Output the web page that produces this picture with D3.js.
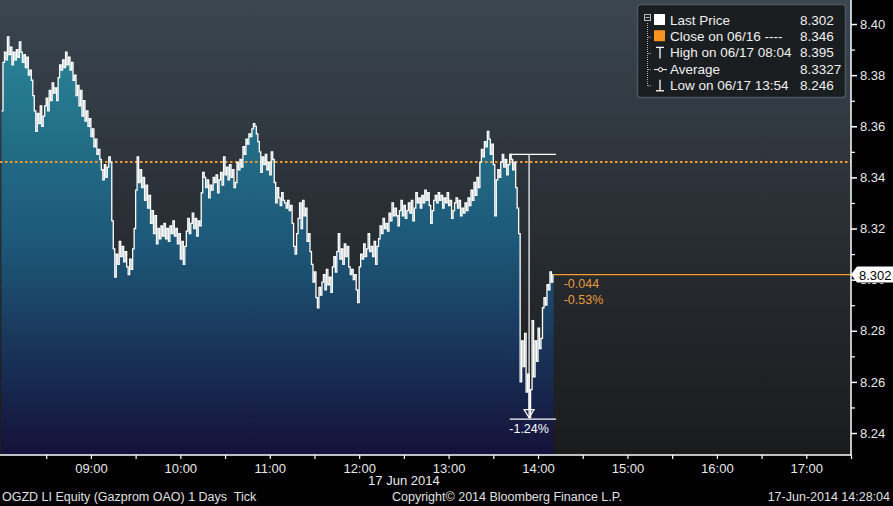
<!DOCTYPE html>
<html><head><meta charset="utf-8">
<script src="https://cdn.jsdelivr.net/npm/d3@7"></script>
<style>
html,body{margin:0;padding:0;background:#000;}
svg{display:block;}
text{font-family:"Liberation Sans",Arial,sans-serif;white-space:pre;}
</style></head>
<body>
<svg id="chart" width="893" height="506"></svg>
<script>
// ---------- DATA ----------
const sessionStart = "07:59", sessionEnd = "17:30";
const tickStart = "08:00";           // first tick, one value per minute after
const prices = [
8.366,8.385,8.389,8.386,8.395,8.388,8.391,8.384,8.389,8.386,
8.390,8.387,8.393,8.389,8.385,8.388,8.383,8.387,8.380,8.382,
8.378,8.372,8.366,8.358,8.365,8.361,8.368,8.360,8.364,8.368,
8.371,8.366,8.374,8.370,8.377,8.373,8.375,8.370,8.379,8.384,
8.382,8.386,8.383,8.389,8.384,8.387,8.382,8.385,8.378,8.380,
8.372,8.376,8.368,8.374,8.364,8.370,8.362,8.366,8.360,8.363,
8.356,8.359,8.352,8.355,8.349,8.351,8.347,8.343,8.339,8.345,
8.340,8.344,8.348,8.346,8.323,8.312,8.301,8.310,8.306,8.315,
8.309,8.313,8.307,8.311,8.305,8.302,8.308,8.304,8.312,8.320,
8.335,8.348,8.338,8.343,8.336,8.340,8.331,8.337,8.328,8.333,
8.322,8.327,8.318,8.325,8.314,8.320,8.316,8.321,8.317,8.322,
8.316,8.320,8.315,8.321,8.318,8.323,8.317,8.320,8.314,8.318,
8.308,8.315,8.306,8.313,8.319,8.324,8.318,8.322,8.326,8.320,
8.324,8.317,8.323,8.321,8.334,8.342,8.340,8.336,8.339,8.332,
8.337,8.335,8.340,8.338,8.341,8.334,8.339,8.342,8.337,8.348,
8.341,8.344,8.339,8.345,8.340,8.343,8.336,8.338,8.346,8.343,
8.347,8.344,8.352,8.349,8.355,8.353,8.357,8.356,8.359,8.361,
8.360,8.357,8.354,8.350,8.342,8.348,8.345,8.349,8.343,8.346,
8.341,8.350,8.347,8.338,8.330,8.336,8.332,8.329,8.334,8.331,
8.330,8.328,8.331,8.327,8.329,8.322,8.313,8.310,8.318,8.324,
8.330,8.320,8.331,8.325,8.328,8.315,8.318,8.311,8.306,8.299,
8.303,8.293,8.289,8.297,8.294,8.299,8.302,8.296,8.304,8.298,
8.301,8.295,8.305,8.309,8.303,8.311,8.318,8.308,8.312,8.306,
8.314,8.309,8.313,8.305,8.302,8.304,8.300,8.302,8.296,8.291,
8.305,8.310,8.308,8.314,8.309,8.312,8.318,8.311,8.313,8.309,
8.315,8.306,8.313,8.316,8.321,8.318,8.324,8.320,8.322,8.319,
8.326,8.323,8.330,8.325,8.328,8.325,8.321,8.327,8.331,8.325,
8.329,8.324,8.327,8.330,8.326,8.331,8.323,8.328,8.334,8.330,
8.332,8.328,8.333,8.330,8.335,8.331,8.334,8.329,8.322,8.327,
8.331,8.333,8.330,8.334,8.331,8.333,8.328,8.332,8.330,8.334,
8.329,8.331,8.324,8.327,8.330,8.332,8.328,8.331,8.325,8.328,
8.326,8.330,8.327,8.332,8.329,8.335,8.331,8.338,8.333,8.340,
8.336,8.346,8.351,8.348,8.354,8.352,8.358,8.355,8.349,8.353,
8.345,8.325,8.339,8.343,8.340,8.346,8.349,8.344,8.347,8.341,
8.345,8.349,8.347,8.343,8.346,8.336,8.328,8.318,8.260,8.276,
8.266,8.279,8.256,8.263,8.246,8.257,8.284,8.262,8.276,8.268,
8.281,8.273,8.277,8.289,8.293,8.290,8.298,8.296,8.303,8.299,
8.302
];
const yMajorTicks = [8.24,8.26,8.28,8.30,8.32,8.34,8.36,8.38,8.40];
const yMinorTicks = [8.25,8.27,8.29,8.31,8.33,8.35,8.37,8.39];
const yDomain = [8.2314, 8.4094];
const hourLabels = ["09:00","10:00","11:00","12:00","13:00","14:00","15:00","16:00","17:00"];
const previousClose = 8.346;
const lastPrice = 8.302;
const netChange = "-0.044", pctChange = "-0.53%";
const drawdownPeak = {time:"13:41", value:8.349};
const drawdownLow  = {time:"13:54", value:8.246};
const drawdownEnd = "14:10";
const drawdownLabel = "-1.24%";
const legendRows = [
  {icon:"square", color:"#ffffff", label:"Last Price", value:"8.302"},
  {icon:"square", color:"#f7931e", label:"Close on 06/16 ----", value:"8.346"},
  {icon:"high",   color:"#ffffff", label:"High on 06/17 08:04", value:"8.395"},
  {icon:"avg",    color:"#ffffff", label:"Average", value:"8.3327"},
  {icon:"low",    color:"#ffffff", label:"Low on 06/17 13:54", value:"8.246"}
];
const footerLeft = "OGZD LI Equity (Gazprom OAO) 1 Days  Tick";
const footerMid = "Copyright\u00A9 2014 Bloomberg Finance L.P.";
const footerRight = "17-Jun-2014 14:28:04";
const dateLabel = "17 Jun 2014";

// ---------- SETUP ----------
const parseT = s => { const [h,m] = s.split(":").map(Number); return new Date(2014,5,17,h,m); };
const t0 = parseT(tickStart);
const data = prices.map((p,i) => ({t:new Date(t0.getTime()+i*60000), p}));

const W = 851, H = 455;
const svg = d3.select("#chart");
const x = d3.scaleTime().domain([parseT(sessionStart), parseT(sessionEnd)]).range([0, W]);
const y = d3.scaleLinear().domain(yDomain).range([H, 0]);

const defs = svg.append("defs");
const bg = defs.append("linearGradient").attr("id","bg").attr("x1",0).attr("y1",0).attr("x2",0).attr("y2",1);
bg.append("stop").attr("offset","0%").attr("stop-color","#3b4651");
bg.append("stop").attr("offset","45%").attr("stop-color","#2a3036");
bg.append("stop").attr("offset","100%").attr("stop-color","#1a1b1d");
const ag = defs.append("linearGradient").attr("id","ag").attr("gradientUnits","userSpaceOnUse")
  .attr("x1",0).attr("y1",30).attr("x2",0).attr("y2",H);
ag.append("stop").attr("offset","0%").attr("stop-color","#2a8698");
ag.append("stop").attr("offset","50%").attr("stop-color","#1d5878");
ag.append("stop").attr("offset","100%").attr("stop-color","#15113a");

svg.append("rect").attr("x",0).attr("y",0).attr("width",893).attr("height",506).attr("fill","#000");
svg.append("rect").attr("x",0).attr("y",0).attr("width",W).attr("height",H).attr("fill","url(#bg)");

const area = d3.area().curve(d3.curveStepAfter).x(d=>x(d.t)).y0(H).y1(d=>y(d.p));
const line = d3.line().curve(d3.curveStepAfter).x(d=>x(d.t)).y(d=>y(d.p));
const lastT = data[data.length-1].t;
const areaData = data.concat([{t:new Date(lastT.getTime()+30000), p:data[data.length-1].p}]);
svg.append("path").datum(areaData).attr("d",area).attr("fill","url(#ag)");

// previous close dotted line
svg.append("line").attr("x1",0).attr("x2",W).attr("y1",y(previousClose)).attr("y2",y(previousClose))
  .attr("stroke","#f39a2a").attr("stroke-width",2).attr("stroke-dasharray","2.5,2.5");

svg.append("path").datum(areaData).attr("d",line).attr("fill","none").attr("stroke","#ffffff").attr("stroke-width",1.3);

// last price line
const xLast = x(areaData[areaData.length-1].t);
svg.append("line").attr("x1",xLast).attr("x2",W).attr("y1",y(lastPrice)).attr("y2",y(lastPrice))
  .attr("stroke","#f39a2a").attr("stroke-width",1.2);
svg.append("text").attr("x",xLast+10).attr("y",y(lastPrice)+13).attr("fill","#e89a3c").attr("font-size",12.5).text(netChange);
svg.append("text").attr("x",xLast+10).attr("y",y(lastPrice)+29).attr("fill","#e89a3c").attr("font-size",12.5).text(pctChange);

// drawdown annotation
const xPk = x(parseT(drawdownPeak.time)), xLow = x(parseT(drawdownLow.time)), xEnd = x(parseT(drawdownEnd))+3;
const yPk = y(drawdownPeak.value), yLow = y(drawdownLow.value);
const dd = svg.append("g").attr("stroke","#fff").attr("stroke-width",1.2).attr("fill","none");
dd.append("line").attr("x1",xPk).attr("x2",xEnd).attr("y1",yPk).attr("y2",yPk);
dd.append("line").attr("x1",xLow).attr("x2",xLow).attr("y1",yPk).attr("y2",yLow-8);
dd.append("path").attr("d",`M${xLow-5},${yLow-8}L${xLow+5},${yLow-8}L${xLow},${yLow}Z`);
dd.append("line").attr("x1",xPk).attr("x2",xEnd).attr("y1",yLow+1.5).attr("y2",yLow+1.5);
svg.append("text").attr("x",xLow).attr("y",yLow+15).attr("text-anchor","middle").attr("fill","#fff").attr("font-size",12.5).text(drawdownLabel);

// ---------- AXES ----------
const yl = y(lastPrice);
defs.append("clipPath").attr("id","belowBox").append("rect")
  .attr("x",-10).attr("y",yl+8-y(8.30)).attr("width",60).attr("height",20);
const yAx = svg.append("g").attr("transform",`translate(${W},0)`)
  .call(d3.axisRight(y).tickValues(yMajorTicks).tickSize(6).tickPadding(3).tickFormat(d3.format(".2f")));
yAx.select(".domain").attr("stroke","#fff").attr("stroke-width",1.5).attr("d",`M0,0V${H}`);
yAx.selectAll(".tick line").attr("stroke","#fff").attr("stroke-width",1.5);
yAx.selectAll(".tick text").attr("fill","#e8e8e8").attr("font-size",13).attr("font-family","Liberation Sans");
// the 8.30 label sits behind the last-price box; only its lower edge shows
yAx.selectAll(".tick text").filter(d => Math.abs(d-8.30)<1e-9).attr("clip-path","url(#belowBox)");
const yMin = svg.append("g").attr("transform",`translate(${W},0)`)
  .call(d3.axisRight(y).tickValues(yMinorTicks).tickSize(4).tickFormat(""));
yMin.select(".domain").remove();
yMin.selectAll(".tick line").attr("stroke","#fff").attr("stroke-width",1.2);

// last price box
svg.append("path").attr("d",`M${W},${yl}L${W+6},${yl-8}H893V${yl+8}H${W+6}Z`).attr("fill","#fff");
svg.append("text").attr("x",W+8).attr("y",yl+5).attr("fill","#000").attr("font-size",13).text(lastPrice.toFixed(3));

const halfHours = d3.timeMinute.every(30).range(parseT("08:30"), parseT("17:31"));
const xAx = svg.append("g").attr("transform",`translate(0,${H})`)
  .call(d3.axisBottom(x).tickValues(halfHours).tickSize(4).tickPadding(5)
    .tickFormat(d => { const s = d3.timeFormat("%H:%M")(d); return hourLabels.includes(s) ? s : ""; }));
xAx.select(".domain").attr("stroke","#fff").attr("stroke-width",1.5).attr("d",`M0,0H${W}`);
xAx.selectAll(".tick line").attr("stroke","#fff").attr("stroke-width",1.2);
xAx.selectAll(".tick text").attr("fill","#e8e8e8").attr("font-size",13).attr("font-family","Liberation Sans");

svg.append("text").attr("x",x(parseT("12:30"))).attr("y",485).attr("text-anchor","middle").attr("fill","#e8e8e8").attr("font-size",13).text(dateLabel);
svg.append("text").attr("x",2).attr("y",501).attr("fill","#e0e0e0").attr("font-size",12.5).text(footerLeft);
svg.append("text").attr("x",392).attr("y",501).attr("fill","#e0e0e0").attr("font-size",12.5).text(footerMid);
svg.append("text").attr("x",890).attr("y",501).attr("text-anchor","end").attr("fill","#e0e0e0").attr("font-size",12.5).text(footerRight);

// ---------- LEGEND ----------
const lg = svg.append("g");
lg.append("rect").attr("x",637.5).attr("y",4.5).attr("width",208).attr("height",93).attr("rx",3)
  .attr("fill","#1b1e21").attr("stroke","#4b5862").attr("stroke-width",1.5);
const rowY = i => 20 + i*16.2;
lg.append("line").attr("x1",647.5).attr("x2",647.5).attr("y1",rowY(0)+3).attr("y2",rowY(4)+2)
  .attr("stroke","#aaa").attr("stroke-dasharray","1,1");
lg.append("rect").attr("x",644.5).attr("y",rowY(0)-5.5).attr("width",6).attr("height",6).attr("fill","none").attr("stroke","#bbb");
lg.append("line").attr("x1",645.5).attr("x2",649.5).attr("y1",rowY(0)-2.5).attr("y2",rowY(0)-2.5).attr("stroke","#bbb");
legendRows.forEach((r,i) => {
  const cy = rowY(i);
  if (i>0) lg.append("line").attr("x1",648).attr("x2",652).attr("y1",cy+1).attr("y2",cy+1).attr("stroke","#aaa").attr("stroke-dasharray","1,1");
  if (r.icon==="square") lg.append("rect").attr("x",654).attr("y",cy-6).attr("width",11).attr("height",11).attr("fill",r.color);
  else if (r.icon==="high") {
    lg.append("line").attr("x1",656).attr("x2",664).attr("y1",cy-5).attr("y2",cy-5).attr("stroke","#fff").attr("stroke-width",1.3);
    lg.append("line").attr("x1",660).attr("x2",660).attr("y1",cy-5).attr("y2",cy+6).attr("stroke","#fff").attr("stroke-width",1.3);
  } else if (r.icon==="avg") {
    lg.append("line").attr("x1",654).attr("x2",667).attr("y1",cy+1).attr("y2",cy+1).attr("stroke","#fff");
    lg.append("circle").attr("cx",660.5).attr("cy",cy+1).attr("r",2).attr("fill","#1b1e21").attr("stroke","#fff");
  } else {
    lg.append("line").attr("x1",660).attr("x2",660).attr("y1",cy-5).attr("y2",cy+6).attr("stroke","#fff").attr("stroke-width",1.3);
    lg.append("line").attr("x1",656).attr("x2",664).attr("y1",cy+6).attr("y2",cy+6).attr("stroke","#fff").attr("stroke-width",1.3);
  }
  lg.append("text").attr("x",670).attr("y",cy+5).attr("fill","#f0f0f0").attr("font-size",13.5).text(r.label);
  lg.append("text").attr("x",800).attr("y",cy+5).attr("fill","#f0f0f0").attr("font-size",13.5).text(r.value);
});
</script>
</body></html>
